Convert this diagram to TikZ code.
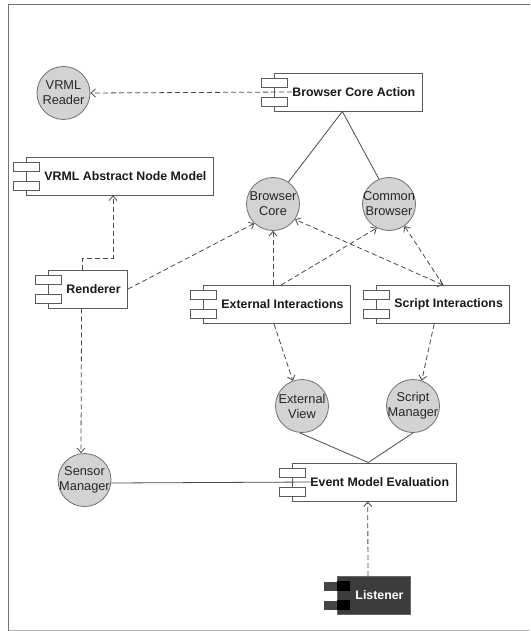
\documentclass[tikz,border=0pt]{standalone}
\usepackage{fontspec}
\setmainfont{Liberation Sans}
\usetikzlibrary{arrows.meta}
\definecolor{boxc}{HTML}{5A5A5A}
\definecolor{circfill}{HTML}{D3D3D3}
\definecolor{circline}{HTML}{707070}
\definecolor{linec}{HTML}{4A4A4A}
\definecolor{listfill}{HTML}{3C3C3C}
\definecolor{listtab}{HTML}{444444}
\tikzset{
  comp/.style={draw=boxc, fill=white, line width=0.9pt, minimum height=38pt, inner xsep=7pt, inner ysep=0pt,
    font=\fontsize{12.35}{14}\selectfont\bfseries, text=black!90},
  tab/.style={draw=boxc, fill=white, line width=0.9pt, minimum width=26pt, minimum height=9pt, inner sep=0pt},
  circ/.style={circle, draw=circline, fill=circfill, line width=0.8pt, minimum size=53pt, inner sep=0pt},
  circtext/.style={align=center, font=\fontsize{12.8}{15}\selectfont, text=black!85, inner sep=0pt},
  dep/.style={draw=linec, line width=0.8pt, dash pattern=on 5pt off 3pt, -{Straight Barb[length=4.5pt,width=8pt]}},
  bidep/.style={draw=linec, line width=0.8pt, dash pattern=on 5pt off 3pt, {Straight Barb[length=4.5pt,width=8pt]}-{Straight Barb[length=4.5pt,width=8pt]}},
  assoc/.style={draw=linec, line width=0.8pt}
}
\newcommand\mkcomp[4]{%
  \node[comp, anchor=west] (#1) at (#2,#3) {\hspace*{11pt}#4};
  \node[tab] (#1-t1) at ([yshift=9.5pt]#1.west) {};
  \node[tab] (#1-t2) at ([yshift=-9.5pt]#1.west) {};}
\newcommand\mkcirc[4]{%
  \node[circ, label={[circtext]center:#4}] (#1) at (#2,#3) {};}
\begin{document}
\begin{tikzpicture}[x=1pt, y=-1pt]
\useasboundingbox (0,0) rectangle (530,631);
% frame
\draw[draw=black!30, line width=1.5pt] (8.5,630.3) -- (530,630.3);
\draw[draw=black!55, line width=1.5pt] (8.5,631) -- (8.5,4.5) -- (530,4.5);

% components
\mkcomp{bca}{274}{92}{Browser Core Action}
\mkcomp{vanm}{26}{176}{VRML Abstract Node Model}
\mkcomp{rend}{48}{289}{Renderer}
\mkcomp{exti}{203}{304.5}{External Interactions}
\mkcomp{scri}{376}{304.5}{Script Interactions}
\mkcomp{eme}{292}{482}{Event Model Evaluation}

% listener (dark)
\node[comp, anchor=west, fill=listfill, draw=black!60, text=white] (lis) at (337,595.5) {\hspace*{11pt}Listener};
\node[tab, draw=none, fill=listtab] (lis-t1) at ([yshift=9.5pt]lis.west) {};
\node[tab, draw=none, fill=listtab] (lis-t2) at ([yshift=-9.5pt]lis.west) {};
\fill[black] (lis-t1.north -| lis.west) rectangle (lis-t1.south east);
\fill[black] (lis-t2.north -| lis.west) rectangle (lis-t2.south east);

% interfaces
\mkcirc{reader}{63.5}{93}{VRML\\Reader}
\mkcirc{bcore}{273}{204}{Browser\\Core}
\mkcirc{cbrow}{389}{204}{Common\\Browser}
\mkcirc{extv}{302}{406}{External\\View}
\mkcirc{smgr}{413}{406}{Script\\Manager}
\mkcirc{senm}{84.5}{480}{Sensor\\Manager}

% connectors
\coordinate (relbow) at (113,258);
\draw[dep] ([xshift=18pt]bca.west) -- (reader.east);
\draw[assoc] ([xshift=-6pt]bca.south) -- (bcore.55);
\draw[assoc] ([xshift=-6pt]bca.south) -- (cbrow.112);
\draw[dep] ([xshift=-6pt]rend.north) |- (relbow) -- (relbow |- vanm.south);
\draw[dep] (rend.east) -- (bcore.226);
\draw[dep] (exti.north -| bcore.south) -- (bcore.south);
\draw[dep] ([xshift=4pt]exti.north) -- (cbrow.243);
\draw[bidep] (scri.north) -- (bcore.325);
\draw[dep] (scri.north) -- (cbrow.305);
\draw[dep] ([xshift=-3pt]exti.south) -- (extv.110);
\draw[dep] ([xshift=-9pt]scri.south) -- (smgr.71);
\draw[assoc] (extv.265) -- ([xshift=-6pt]eme.north);
\draw[assoc] (smgr.south) -- ([xshift=-6pt]eme.north);
\draw[dep] ([xshift=-6.5pt]rend.south) -- ([xshift=-3.5pt]senm.north);
\draw[assoc] ([yshift=-3pt]senm.east) -- ([xshift=21pt]eme.west);
\draw[dep] ([xshift=-6pt]lis.north) -- ([xshift=-6.5pt]eme.south);
\end{tikzpicture}
\end{document}
